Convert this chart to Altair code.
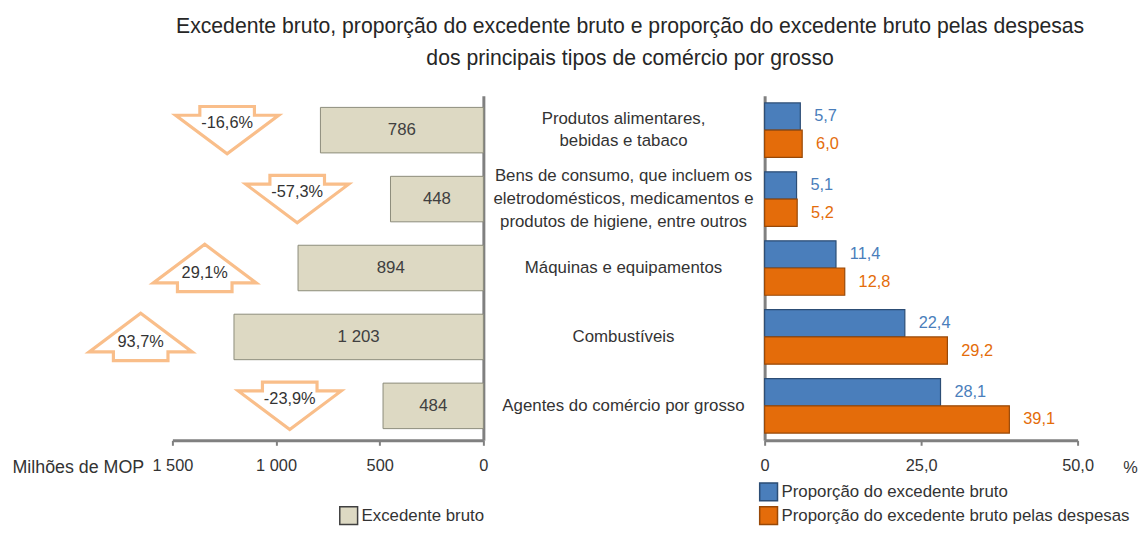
import altair as alt
import pandas as pd

FONT = "Liberation Sans, Arial, sans-serif"

categorias = [
    "Produtos alimentares,\nbebidas e tabaco",
    "Bens de consumo, que incluem os\neletrodomésticos, medicamentos e\nprodutos de higiene, entre outros",
    "Máquinas e equipamentos",
    "Combustíveis",
    "Agentes do comércio por grosso",
]
excedente = [786, 448, 894, 1203, 484]
variacao = [-16.6, -57.3, 29.1, 93.7, -23.9]
prop_excedente = [5.7, 5.1, 11.4, 22.4, 28.1]
prop_despesas = [6.0, 5.2, 12.8, 29.2, 39.1]
series = ["Proporção do excedente bruto", "Proporção do excedente bruto pelas despesas"]
serie_esq = "Excedente bruto"

titulo = [
    "Excedente bruto, proporção do excedente bruto e proporção do excedente bruto pelas despesas",
    "dos principais tipos de comércio por grosso",
]

df_left = pd.DataFrame({
    "cat": categorias,
    "exc": excedente,
    "var": variacao,
    "serie": [serie_esq] * len(categorias),
    "exc_lbl": [f"{v:,}".replace(",", " ") for v in excedente],
    "var_lbl": [f"{v:.1f}%".replace(".", ",") for v in variacao],
    "nlines": [c.count("\n") + 1 for c in categorias],
})

rows = []
for c, a, b in zip(categorias, prop_excedente, prop_despesas):
    rows.append({"cat": c, "series": series[0], "val": a, "lbl": f"{a:.1f}".replace(".", ",")})
    rows.append({"cat": c, "series": series[1], "val": b, "lbl": f"{b:.1f}".replace(".", ",")})
df_right = pd.DataFrame(rows)

AX = "#808080"
TXT = "#333333"
H = 348
LAB = 16.5

ARROW_DOWN = "M-0.53,-0.46L0.53,-0.46L0.53,-0.29L1,-0.29L0,0.46L-1,-0.29L-0.53,-0.29Z"
ARROW_UP = "M-0.53,0.46L0.53,0.46L0.53,0.29L1,0.29L0,-0.46L-1,0.29L-0.53,0.29Z"

# ---------- left panel ----------
x_left_scale = alt.Scale(domain=[0, 1500], reverse=True, nice=False)
x_left_axis = alt.Axis(
    values=[0, 500, 1000, 1500],
    labelExpr="replace(format(datum.value, ','), ',', ' ')",
    title="Milhões de MOP", titleX=-29, titleY=27, titleAlign="right",
    titleBaseline="middle", titleAngle=0, titleFontWeight="normal",
    titleFontSize=18, titleColor=TXT, titleFont=FONT,
    labelFlush=False, labelOverlap=False, labelFontSize=LAB, labelColor=TXT,
    labelFont=FONT, labelPadding=12, tickSize=5, tickColor=AX, tickWidth=2,
    domainColor=AX, domainWidth=3, grid=False,
)
y_left = alt.Y("cat:N", sort=categorias,
               scale=alt.Scale(paddingInner=0.34, paddingOuter=0.17),
               axis=alt.Axis(orient="right", labels=False, ticks=False, title=None,
                             domainColor=AX, domainWidth=3, grid=False))

base_left = alt.Chart(df_left).transform_calculate(
    arrow_x="datum.exc + 450", mid="datum.exc / 2"
)

bars_left = base_left.mark_bar(stroke="#8C8C7A", strokeWidth=1).encode(
    x=alt.X("exc:Q", scale=x_left_scale, axis=x_left_axis),
    y=y_left,
    color=alt.Color("serie:N", scale=alt.Scale(domain=[serie_esq], range=["#DDD9C3"]),
                    legend=alt.Legend(orient="none", legendX=168, legendY=414, title=None,
                                      symbolType="square", symbolSize=324,
                                      symbolStrokeColor="#404040", symbolStrokeWidth=1.5,
                                      labelFontSize=17, labelFont=FONT, labelColor=TXT,
                                      labelOffset=3, labelLimit=500, padding=0)),
)
text_left = base_left.mark_text(fontSize=17, font=FONT, color="#404040", baseline="middle").encode(
    x=alt.X("mid:Q", scale=x_left_scale, axis=x_left_axis),
    y=y_left,
    text="exc_lbl:N",
)
arrow_dn = base_left.transform_filter("datum.var < 0").mark_point(
    shape=ARROW_DOWN, size=10816, filled=True, fill="white", fillOpacity=1,
    stroke="#F9BE8A", strokeWidth=3.2, opacity=1,
).encode(x=alt.X("arrow_x:Q", scale=x_left_scale, axis=x_left_axis), y=y_left)
arrow_up = base_left.transform_filter("datum.var >= 0").mark_point(
    shape=ARROW_UP, size=10816, filled=True, fill="white", fillOpacity=1,
    stroke="#F9BE8A", strokeWidth=3.2, opacity=1,
).encode(x=alt.X("arrow_x:Q", scale=x_left_scale, axis=x_left_axis), y=y_left)
arrow_txt_dn = base_left.transform_filter("datum.var < 0").mark_text(
    fontSize=16.5, font=FONT, color=TXT, baseline="middle", dy=-7
).encode(x=alt.X("arrow_x:Q", scale=x_left_scale, axis=x_left_axis), y=y_left, text="var_lbl:N")
arrow_txt_up = base_left.transform_filter("datum.var >= 0").mark_text(
    fontSize=16.5, font=FONT, color=TXT, baseline="middle", dy=5
).encode(x=alt.X("arrow_x:Q", scale=x_left_scale, axis=x_left_axis), y=y_left, text="var_lbl:N")

left = alt.layer(bars_left, text_left, arrow_dn, arrow_up, arrow_txt_dn, arrow_txt_up).properties(
    width=314, height=H)

# ---------- middle labels ----------
y_mid = alt.Y("cat:N", sort=categorias, axis=None,
              scale=alt.Scale(paddingInner=0.34, paddingOuter=0.17))
LH = 23
mid_layers = []
for n in (1, 2, 3):
    mid_layers.append(
        alt.Chart(df_left).transform_filter(f"datum.nlines == {n}").mark_text(
            fontSize=17, font=FONT, color=TXT, lineHeight=LH, lineBreak="\n",
            align="center", baseline="middle", dy=-(n - 1) * LH / 2,
        ).encode(y=y_mid, x=alt.value(141.5), text="cat:N")
    )
middle = alt.layer(*mid_layers).properties(width=284, height=H)

# ---------- right panel ----------
x_right_scale = alt.Scale(domain=[0, 50], nice=False)
x_right_axis = alt.Axis(
    values=[0, 25, 50],
    labelExpr="datum.value == 0 ? '0' : replace(format(datum.value, '.1f'), '.', ',')",
    title="%", titleX=369, titleY=27, titleAlign="center", titleBaseline="middle",
    titleAngle=0, titleFontWeight="normal", titleFontSize=LAB, titleColor=TXT, titleFont=FONT,
    labelFlush=False, labelOverlap=False, labelFontSize=LAB, labelColor=TXT, labelFont=FONT,
    labelPadding=12, tickSize=5, tickColor=AX, tickWidth=2,
    domainColor=AX, domainWidth=3, grid=False,
)
y_right = alt.Y("cat:N", sort=categorias,
                scale=alt.Scale(paddingInner=0.21, paddingOuter=0.105),
                axis=alt.Axis(orient="left", labels=False, ticks=False, title=None,
                              domainColor=AX, domainWidth=3, grid=False))
yoff = alt.YOffset("series:N", sort=series, scale=alt.Scale(paddingInner=0, paddingOuter=0))
color_right = alt.Color(
    "series:N", sort=series,
    scale=alt.Scale(domain=series, range=["#4A7EBB", "#E46C0A"]),
    legend=alt.Legend(orient="none", legendX=-6, legendY=390, title=None,
                      symbolType="square", symbolSize=324,
                      symbolStrokeColor="#404040", symbolStrokeWidth=1.5,
                      labelFontSize=17, labelFont=FONT, labelColor=TXT,
                      labelOffset=3, labelLimit=500, rowPadding=0, padding=0),
)

base_right = alt.Chart(df_right)
bars_right = base_right.mark_bar(strokeWidth=1.2).encode(
    x=alt.X("val:Q", scale=x_right_scale, axis=x_right_axis),
    y=y_right, yOffset=yoff, color=color_right,
    stroke=alt.Stroke("series:N", sort=series,
                      scale=alt.Scale(domain=series, range=["#2C4D75", "#984807"]),
                      legend=None),
)
text_right = base_right.mark_text(align="left", dx=14, fontSize=16.5, font=FONT,
                                  baseline="middle").encode(
    x=alt.X("val:Q", scale=x_right_scale, axis=x_right_axis),
    y=y_right, yOffset=yoff, color=color_right, text="lbl:N",
)
right = alt.layer(bars_right, text_right).properties(width=316, height=H)

chart = alt.hconcat(left, middle, right, spacing=0, bounds="flush").resolve_scale(
    x="independent", y="independent", color="independent", stroke="independent"
).properties(
    title=alt.TitleParams(text=titulo, fontSize=21.4, font=FONT, fontWeight="normal",
                          color="#262626", anchor="middle", dx=56,
                          lineHeight=32, offset=27),
    padding={"left": 3, "top": 5, "right": 0, "bottom": 0},
).configure(font=FONT).configure_view(stroke=None)

chart.save("out.html", embed_options={"renderer": "svg", "actions": False})
